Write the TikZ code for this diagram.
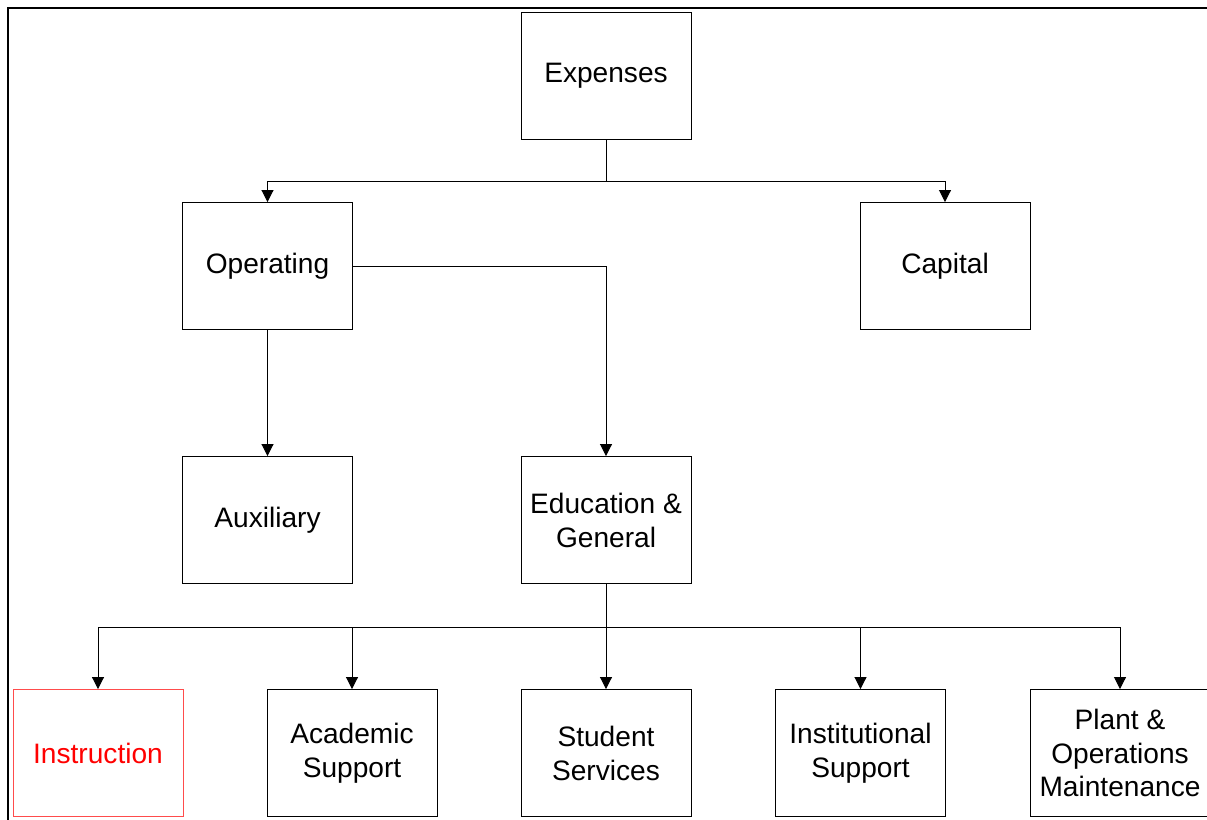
\documentclass[tikz,border=0pt]{standalone}
\usepackage{fontspec}
\setmainfont{Liberation Sans}
\usetikzlibrary{arrows.meta}
\tikzset{
  box/.style={draw=black, line width=0.55pt, minimum width=3.4cm, minimum height=2.54cm, inner sep=0pt, align=center, font=\fontsize{16}{19.3}\selectfont, fill=white},
  redbox/.style={box, draw=red!70, text=red},
  arr/.style={line width=0.55pt, -{Triangle[width=0.24cm,length=0.24cm]}},
  ln/.style={line width=0.55pt},
  frame/.style={line width=1.2pt}
}
\begin{document}
\begin{tikzpicture}[x=0.02cm,y=-0.02cm]
\useasboundingbox (0,0) rectangle (1207,819);
\clip (0,0) rectangle (1207,819);
\draw[frame] (8,840) -- (8,8) -- (1230,8);
\node[box] (exp) at (606,75.5) {Expenses};
\node[box] (op) at (267.5,266) {Operating};
\node[box] (cap) at (945,266) {Capital};
\node[box] (aux) at (267.5,520) {Auxiliary};
\node[box] (edu) at (606,520) {Education \&\\General};
\node[redbox] (ins) at (98,753) {Instruction};
\node[box] (aca) at (352,753) {Academic\\Support};
\node[box] (stu) at (606,753) {Student\\Services};
\node[box] (inst) at (860.5,753) {Institutional\\Support};
\node[box, minimum width=3.6cm] (pla) at (1120,753) {Plant \&\\Operations\\Maintenance};
\coordinate (j1) at (606,181);
\coordinate (j2) at (606,627);
\draw[ln] (exp.south) -- (j1);
\draw[arr] (j1) -| (op.north);
\draw[arr] (j1) -| (cap.north);
\draw[arr] (op.east) -| (edu.north);
\draw[arr] (op.south) -- (aux.north);
\draw[ln] (edu.south) -- (j2);
\draw[arr] (j2) -| (ins.north);
\draw[arr] (j2) -| (aca.north);
\draw[arr] (j2) -- (stu.north);
\draw[arr] (j2) -| (inst.north);
\draw[arr] (j2) -| (pla.north);
\end{tikzpicture}
\end{document}
